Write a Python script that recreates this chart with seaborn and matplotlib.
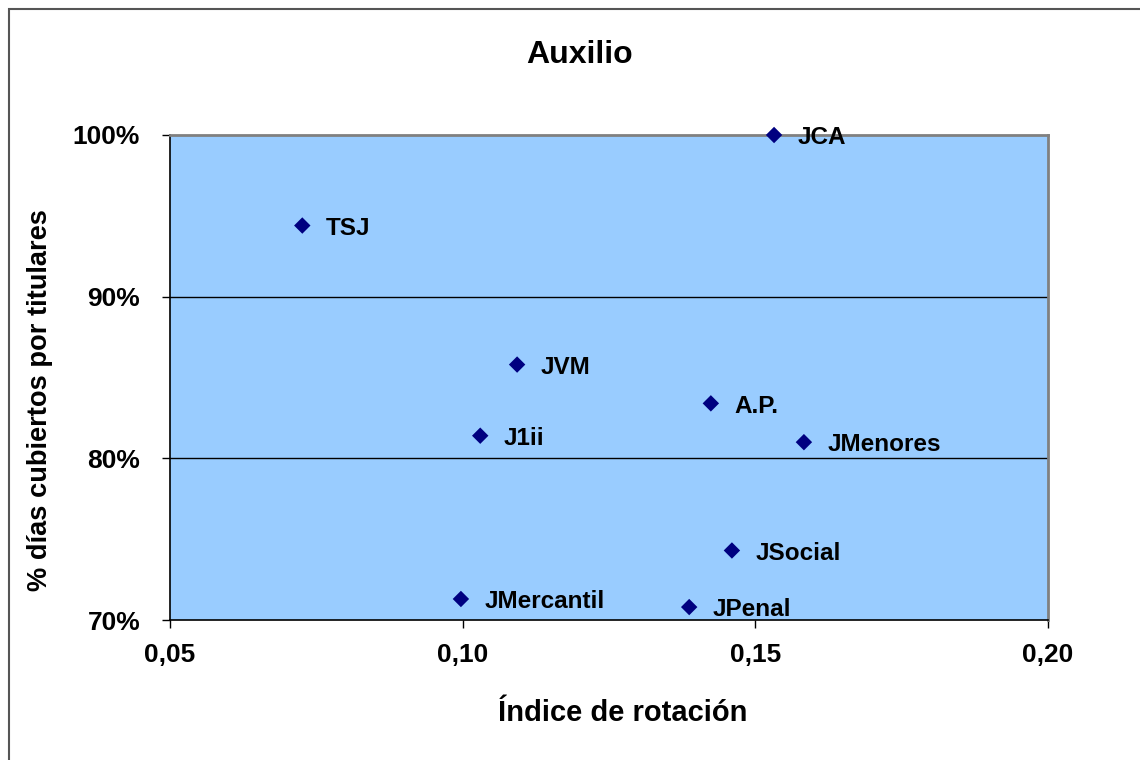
import seaborn as sns
import matplotlib.pyplot as plt
import matplotlib.patches as mpatches
from matplotlib.ticker import FuncFormatter
import pandas as pd

# data
organos = ['TSJ', 'JCA', 'JVM', 'A.P.', 'J1ii', 'JMenores', 'JSocial', 'JMercantil', 'JPenal']
rotacion = [0.0726, 0.1532, 0.1093, 0.1424, 0.1030, 0.1583, 0.1460, 0.0997, 0.1387]
cobertura = [0.944, 1.000, 0.858, 0.834, 0.814, 0.810, 0.743, 0.713, 0.708]

df = pd.DataFrame({'organo': organos, 'rotacion': rotacion, 'cobertura': cobertura})

sns.set_style('white')
plt.rcParams['font.family'] = ['Liberation Sans', 'DejaVu Sans']
plt.rcParams['font.weight'] = 'bold'
plt.rcParams['text.color'] = 'black'
plt.rcParams['axes.labelcolor'] = 'black'
plt.rcParams['xtick.color'] = 'black'
plt.rcParams['ytick.color'] = 'black'

fig = plt.figure(figsize=(11.4, 7.6), dpi=100)
ax = fig.add_axes([170 / 1140, 1 - 620 / 760, 878 / 1140, 485 / 760])
ax.set_facecolor('#99CCFF')

# outer frame of the chart
fig.patches.append(mpatches.Rectangle((9 / 1140, -0.1), 1.2, 1 - 9 / 760 + 0.1,
                                      transform=fig.transFigure, fill=False,
                                      edgecolor='#555555', linewidth=1.5, zorder=0))

for y in [0.8, 0.9]:
    ax.axhline(y, color='black', linewidth=1, zorder=1)

sns.scatterplot(data=df, x='rotacion', y='cobertura', marker='D', s=70,
                color='#000080', edgecolor='none', ax=ax, zorder=3, clip_on=False)

for _, r in df.iterrows():
    ax.annotate(r['organo'], (r['rotacion'], r['cobertura']), xytext=(17, -2),
                textcoords='offset points', va='center', ha='left',
                fontsize=17.5, fontweight='bold', color='black')

ax.set_xlim(0.05, 0.20)
ax.set_ylim(0.70, 1.00)
ax.set_xticks([0.05, 0.10, 0.15, 0.20])
ax.set_yticks([0.70, 0.80, 0.90, 1.00])
ax.xaxis.set_major_formatter(FuncFormatter(lambda v, p: f'{v:.2f}'.replace('.', ',')))
ax.yaxis.set_major_formatter(FuncFormatter(lambda v, p: f'{v * 100:.0f}%'))
ax.tick_params(axis='both', length=5.5, width=1, color='black', labelsize=19,
               direction='out', bottom=True, left=True)
ax.tick_params(axis='x', pad=11)
ax.tick_params(axis='y', pad=16)
for lbl in ax.get_xticklabels() + ax.get_yticklabels():
    lbl.set_fontweight('bold')

ax.spines['left'].set_color('black')
ax.spines['bottom'].set_color('black')
ax.spines['left'].set_linewidth(1.2)
ax.spines['bottom'].set_linewidth(1.2)
ax.spines['top'].set_color('#808080')
ax.spines['right'].set_color('#808080')
ax.spines['top'].set_linewidth(2)
ax.spines['right'].set_linewidth(2)

ax.set_xlabel('')
ax.set_ylabel('')
fig.text(623 / 1140, 1 - 713 / 760, 'Índice de rotación', ha='center', va='center',
         fontsize=21, fontweight='bold')
fig.text(40 / 1140, 1 - 400 / 760, '% días cubiertos por titulares', ha='center',
         va='center', rotation=90, fontsize=19.6, fontweight='bold')
fig.text(580 / 1140, 1 - 55 / 760, 'Auxilio', ha='center', va='center',
         fontsize=23, fontweight='bold')

fig.savefig('out.png', dpi=100)
